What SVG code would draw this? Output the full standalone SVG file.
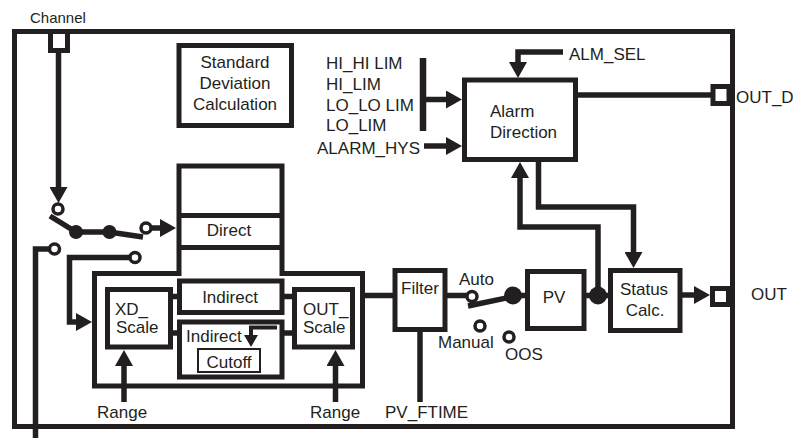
<svg xmlns="http://www.w3.org/2000/svg" width="793" height="447" viewBox="0 0 793 447">
<style>
.b{fill:none;stroke:#231f20;stroke-width:5}
.bw{fill:#fff;stroke:#231f20;stroke-width:5}
.c{fill:none;stroke:#231f20;stroke-width:5.5;stroke-linejoin:miter}
.ca{fill:none;stroke:#231f20;stroke-width:5.5;marker-end:url(#ah)}
.oc{fill:#fff;stroke:#231f20;stroke-width:3.5}
.dot{fill:#231f20}
text{font-family:"Liberation Sans",Arial,sans-serif;font-size:17px;fill:#231f20}
.m{text-anchor:middle}
</style>
<defs>
<marker id="ah" viewBox="0 0 16 18" refX="6" refY="9" markerWidth="16" markerHeight="18" markerUnits="userSpaceOnUse" orient="auto"><path d="M0,0 L16,9 L0,18 z" fill="#231f20"/></marker>
</defs>
<rect id="frame" x="14.5" y="31.5" width="718" height="395" class="b"/>
<text x="30" y="23" style="font-size:15px">Channel</text>
<g id="connectors">
<path class="ca" d="M58.5,51 V193"/>
<polyline class="c" points="50,216 76,232 109,232 143,237"/>
<path class="ca" d="M151,228 H166"/>
<path class="c" d="M49,249 H35.5 V438"/>
<path class="ca" d="M130,257.5 H69.5 V322 H82"/>
<path class="ca" d="M124,402 V360"/>
<path class="ca" d="M335.5,402 V360"/>
<path class="c" d="M170.5,296.5 H179.5 M170.5,333 H179.5 M282,296.5 H294.5 M282,333 H294.5"/>
<path class="c" d="M362.5,295.5 H395"/>
<path class="c" d="M420,329.5 V402"/>
<path class="c" d="M445,295.5 H467"/>
<line class="c" x1="468" y1="306" x2="511" y2="297"/>
<path class="c" d="M513,295.5 H527.5 M584,295.5 H610.5"/>
<path class="ca" d="M680,295 H700"/>
<path class="ca" d="M563,52 H518 V68"/>
<line x1="423" y1="58" x2="423" y2="131" stroke="#231f20" stroke-width="6.5"/>
<path class="ca" d="M423,99.5 H452"/>
<path class="ca" d="M424,146 H452"/>
<path class="ca" d="M598,295 V227 H520 V172"/>
<path class="ca" d="M538.5,160 V207 H633.5 V258"/>
<path class="c" d="M575.5,95 H713"/>
<circle class="dot" cx="76" cy="232" r="7"/>
<circle class="dot" cx="109.5" cy="232" r="7"/>
<circle class="oc" cx="58" cy="209" r="5"/>
<circle class="oc" cx="146" cy="228" r="5"/>
<circle class="oc" cx="54.5" cy="249" r="5"/>
<circle class="oc" cx="135" cy="257.5" r="5"/>
<circle class="dot" cx="513" cy="295.5" r="9"/>
<circle class="dot" cx="598" cy="295.5" r="9"/>
<circle class="oc" cx="472" cy="296.5" r="5"/>
<circle class="oc" cx="480" cy="326" r="5"/>
<circle class="oc" cx="509" cy="337" r="5"/>
</g>
<g id="channel-port"><rect x="50.5" y="31.5" width="17" height="19" class="bw"/></g>
<g id="stddev">
<rect x="179" y="45.5" width="112.5" height="80" class="b"/>
<text x="235" y="68" class="m">Standard</text>
<text x="235" y="89" class="m">Deviation</text>
<text x="235" y="110" class="m">Calculation</text>
</g>
<g id="scaling">
<path class="b" d="M282,273.5 V166 H179 V273.5 H94.5 V386 H362.5 V273.5 Z"/>
<path class="b" d="M179,215.5 H282 M179,247.5 H282"/>
<text x="229" y="236" class="m">Direct</text>
</g>
<g id="xd-scale">
<rect x="107.5" y="289.5" width="63" height="57.5" class="b"/>
<text x="115" y="315">XD_</text>
<text x="116" y="333">Scale</text>
</g>
<g id="indirect">
<rect x="179.5" y="281" width="102.5" height="31.5" class="b"/>
<text x="230" y="303" class="m">Indirect</text>
</g>
<g id="indirect-cutoff">
<rect x="179.5" y="322" width="102.5" height="55" class="b"/>
<text x="186" y="342">Indirect</text>
<path d="M277,327.5 H251 V337" fill="none" stroke="#231f20" stroke-width="4"/>
<polygon points="244,335 258,335 251,347" fill="#231f20"/>
<rect x="198" y="349" width="62" height="23" fill="none" stroke="#231f20" stroke-width="2"/>
<text x="229" y="368" class="m">Cutoff</text>
</g>
<g id="out-scale">
<rect x="294.5" y="289.5" width="58" height="57.5" class="b"/>
<text x="303" y="315">OUT_</text>
<text x="303" y="333">Scale</text>
</g>
<text x="97" y="418">Range</text>
<text x="310" y="418">Range</text>
<g id="filter">
<rect x="395" y="270.5" width="50" height="59" class="b"/>
<text x="420" y="294" class="m">Filter</text>
</g>
<text x="385" y="418">PV_FTIME</text>
<text x="459" y="285">Auto</text>
<text x="438" y="348">Manual</text>
<text x="505" y="360">OOS</text>
<g id="pv">
<rect x="527.5" y="271.5" width="56.5" height="57" class="b"/>
<text x="554" y="303" class="m">PV</text>
</g>
<g id="status">
<rect x="610.5" y="270.5" width="69.5" height="60" class="b"/>
<text x="644" y="295" class="m">Status</text>
<text x="645" y="316" class="m">Calc.</text>
</g>
<g id="out-port"><rect x="712.5" y="288.5" width="16" height="16" class="bw"/></g>
<text x="751" y="300">OUT</text>
<g id="alarm">
<rect x="464.5" y="80" width="111" height="79.5" class="b"/>
<text x="490" y="117">Alarm</text>
<text x="490" y="138">Direction</text>
</g>
<g id="outd-port"><rect x="713" y="86.5" width="16" height="17" class="bw"/></g>
<text x="736" y="103">OUT_D</text>
<text x="569" y="60">ALM_SEL</text>
<text x="326" y="69">HI_HI LIM</text>
<text x="326" y="90">HI_LIM</text>
<text x="326" y="111">LO_LO LIM</text>
<text x="326" y="131">LO_LIM</text>
<text x="317" y="154">ALARM_HYS</text>
</svg>
